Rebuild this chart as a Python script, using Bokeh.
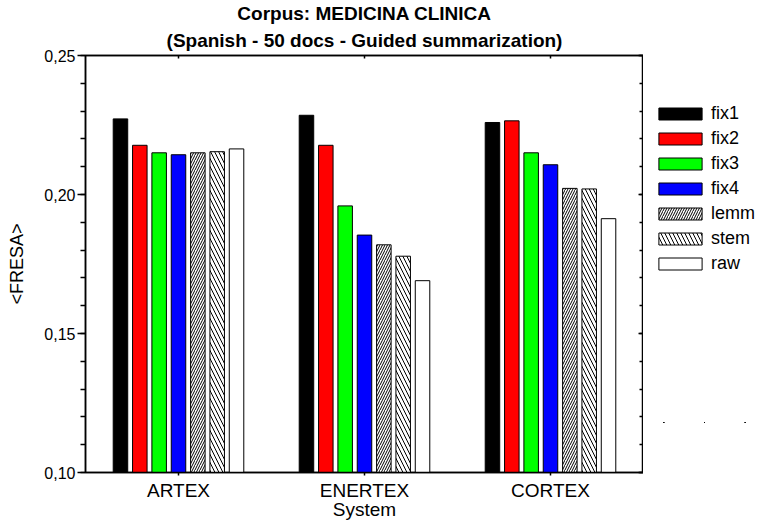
from bokeh.plotting import figure
from bokeh.models import (FactorRange, Range1d, LinearAxis, CategoricalAxis, FixedTicker, Legend,
                          LegendItem, ColumnDataSource, Title)
from bokeh.layouts import row
from bokeh.transform import dodge
from bokeh.embed import file_html
from bokeh.resources import INLINE

systems = ["ARTEX", "ENERTEX", "CORTEX"]
series = ["fix1", "fix2", "fix3", "fix4", "lemm", "stem", "raw"]
fix1 = [0.2272, 0.2285, 0.2259]
fix2 = [0.2177, 0.2177, 0.2265]
fix3 = [0.2150, 0.1959, 0.2150]
fix4 = [0.2143, 0.1854, 0.2107]
lemm = [0.2150, 0.1819, 0.2022]
stem = [0.2154, 0.1778, 0.2020]
raw = [0.2164, 0.1690, 0.1913]
y_ticks = [0.10, 0.15, 0.20, 0.25]
y_tick_labels = ["0,10", "0,15", "0,20", "0,25"]
title1 = "Corpus: MEDICINA CLINICA"
title2 = "(Spanish - 50 docs - Guided summarization)"

src = ColumnDataSource(dict(system=systems, fix1=fix1, fix2=fix2, fix3=fix3,
                            fix4=fix4, lemm=lemm, stem=stem, raw=raw))

FONT = "Liberation Sans"

p = figure(x_range=FactorRange(factors=systems), y_range=Range1d(0.10, 0.25),
           frame_width=558, frame_height=417, min_border_left=85, min_border_top=55,
           min_border_bottom=40, min_border_right=0,
           output_backend="svg", toolbar_location=None)
p.title.text = title1
p.title.align = "center"
p.title.text_font = FONT
p.title.text_font_size = "19px"
p.title.text_font_style = "bold"
p.title.text_color = "black"
p.title.standoff = 0
p.xgrid.visible = False
p.ygrid.visible = False
p.outline_line_color = "black"
p.outline_line_width = 1.5

styles = {
    "fix1": dict(fill_color="black"),
    "fix2": dict(fill_color="#ff0000"),
    "fix3": dict(fill_color="#00ff00"),
    "fix4": dict(fill_color="#0000ff"),
    "lemm": dict(fill_color="white", hatch_pattern="/", hatch_scale=5, hatch_weight=1, hatch_color="black"),
    "stem": dict(fill_color="white", hatch_pattern="\\", hatch_scale=8, hatch_weight=1, hatch_color="black"),
    "raw": dict(fill_color="white"),
}
pitch = 0.104
width = 0.078
for i, s in enumerate(series):
    off = (i - 3) * pitch
    p.vbar(x=dodge("system", off, range=p.x_range), top=s, bottom=0, width=width,
           source=src, line_color="black", line_width=1, **styles[s])

# Left axis
ya = p.yaxis[0]
ya.ticker = FixedTicker(ticks=y_ticks, minor_ticks=[0.10 + 0.01 * k for k in range(16)])
ya.major_label_overrides = {t: l for t, l in zip(y_ticks, y_tick_labels)}
ya.major_label_text_font_size = "16px"
ya.major_label_text_font = FONT
ya.major_label_text_color = "black"
ya.major_tick_out = 8
ya.major_tick_in = 0
ya.minor_tick_out = 5
ya.minor_tick_in = 0
ya.major_label_standoff = 2
ya.axis_label = "<FRESA>"
ya.axis_label_text_font_size = "18px"
ya.axis_label_text_font = FONT
ya.axis_label_text_font_style = "normal"
ya.axis_label_text_color = "black"
ya.axis_label_standoff = 14
ya.axis_line_width = 1.5
ya.major_tick_line_width = 1.5
ya.minor_tick_line_width = 1.5
ya.axis_line_color = "black"

# Bottom axis
xa = p.xaxis[0]
xa.major_label_text_font_size = "19px"
xa.major_label_text_font = FONT
xa.major_label_text_color = "black"
xa.major_tick_out = 3
xa.major_tick_in = 0
xa.major_label_standoff = 4
xa.axis_label = "System"
xa.axis_label_text_font_size = "19px"
xa.axis_label_text_font = FONT
xa.axis_label_text_font_style = "normal"
xa.axis_label_text_color = "black"
xa.axis_label_standoff = -5
xa.axis_line_width = 1.5
xa.major_tick_line_width = 1.5
xa.axis_line_color = "black"

# Right axis (inward ticks only)
ra = LinearAxis(ticker=FixedTicker(ticks=y_ticks, minor_ticks=[0.10 + 0.01 * k for k in range(16)]),
                major_tick_in=5, major_tick_out=0, minor_tick_in=4, minor_tick_out=0,
                major_label_text_font_size="0px", major_label_standoff=0,
                axis_line_width=1.5, major_tick_line_width=1.5, minor_tick_line_width=1.5)
p.add_layout(ra, "right")

# Top axis (inward ticks only), then second title line
ta = CategoricalAxis(major_tick_in=3, major_tick_out=0, major_label_text_font_size="0px",
                     major_label_standoff=0, axis_line_width=1.5, major_tick_line_width=1.5)
p.add_layout(ta, "above")
p.add_layout(Title(text=title2, align="center", text_font=FONT, text_font_size="19px",
                   text_font_style="bold", text_color="black", standoff=9), "above")

# Legend panel (separate figure to the right of the plot); its bars have zero size
lg = figure(width=122, height=472, min_border=0, x_axis_type=None, y_axis_type=None,
            x_range=FactorRange(factors=systems), y_range=Range1d(10, 11),
            output_backend="svg", toolbar_location=None)
lg.outline_line_color = None
lg.xgrid.visible = False
lg.ygrid.visible = False
items = []
for s in series:
    r = lg.vbar(x="system", top=s, bottom=s, width=0, source=src,
                line_color="black", line_width=1, **styles[s])
    items.append(LegendItem(label=s, renderers=[r]))
legend = Legend(items=items, location=(10, 148), glyph_width=54, glyph_height=15,
                label_text_font_size="18px", label_text_font=FONT, label_height=15,
                label_text_color="black",
                spacing=4, padding=0, margin=0, border_line_color=None,
                background_fill_alpha=0, label_standoff=4)
lg.add_layout(legend, "center")

layout = row(p, lg)
open("out.html", "w").write(file_html(layout, INLINE))
